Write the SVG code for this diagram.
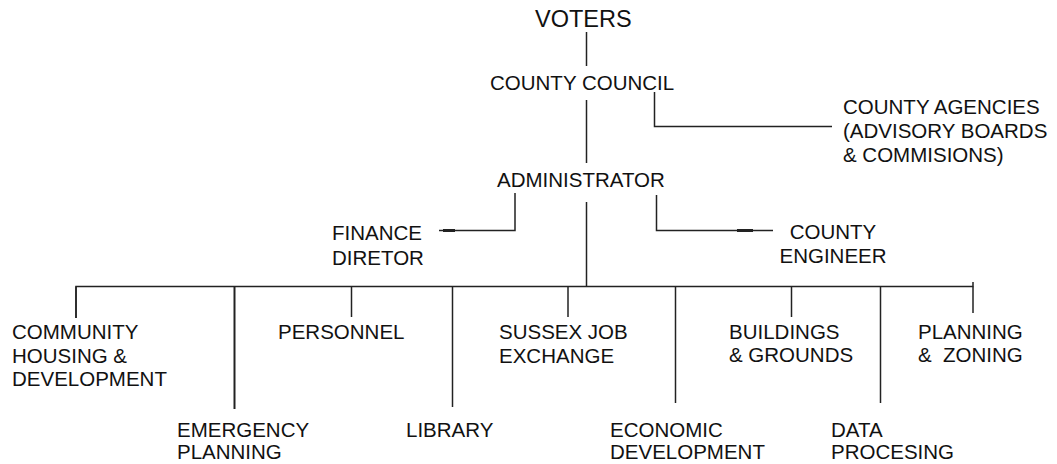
<svg xmlns="http://www.w3.org/2000/svg" width="1057" height="464" viewBox="0 0 1057 464">
  <style>
    .lbl { font-family: "Liberation Sans", Arial, sans-serif; font-size: 20.5px; fill: #111; }
    .big { font-size: 23.5px; }
    .wire { fill: none; stroke: #222; stroke-width: 1.5; }
    .stub { fill: none; stroke: #222; stroke-width: 3; }
  </style>
  <rect width="1057" height="464" fill="#ffffff"/>

  <!-- reporting lines -->
  <g id="connectors">
    <path class="wire" d="M586.5 32 V66"/>
    <path class="wire" d="M586.5 100 V163"/>
    <path class="wire" d="M654.5 92 V126.5 H832"/>
    <path class="wire" d="M515 193 V230.5 H439"/>
    <path class="stub" d="M443 230.5 H455"/>
    <path class="wire" d="M656.5 195 V230.5 H773"/>
    <path class="stub" d="M737 230.5 H753"/>
    <path class="wire" d="M586.5 202 V286.5"/>
    <path class="wire" d="M76 318 V286.5 H973 V282"/>
    <path class="wire" d="M76 286.5 V318"/>
    <path class="wire" d="M234.5 286.5 V409" style="stroke-width:2"/>
    <path class="wire" d="M351.5 286.5 V317"/>
    <path class="wire" d="M452.5 286.5 V407"/>
    <path class="wire" d="M568 286.5 V317"/>
    <path class="wire" d="M675.5 286.5 V403"/>
    <path class="wire" d="M791.5 286.5 V317"/>
    <path class="wire" d="M880.5 286.5 V403"/>
    <path class="wire" d="M973 286.5 V313"/>
  </g>

  <g id="voters"><text class="lbl big" x="535" y="27">VOTERS</text></g>
  <g id="county-council"><text class="lbl" x="490" y="90">COUNTY COUNCIL</text></g>
  <g id="county-agencies">
    <text class="lbl" x="843" y="114">COUNTY AGENCIES</text>
    <text class="lbl" x="843" y="138">(ADVISORY BOARDS</text>
    <text class="lbl" x="843" y="162">&amp; COMMISIONS)</text>
  </g>
  <g id="administrator"><text class="lbl" x="497" y="187">ADMINISTRATOR</text></g>
  <g id="finance-director">
    <text class="lbl" x="332" y="240">FINANCE</text>
    <text class="lbl" x="332" y="265">DIRETOR</text>
  </g>
  <g id="county-engineer">
    <text class="lbl" x="833" y="239" text-anchor="middle">COUNTY</text>
    <text class="lbl" x="833" y="263" text-anchor="middle">ENGINEER</text>
  </g>
  <g id="community-housing">
    <text class="lbl" x="12" y="339">COMMUNITY</text>
    <text class="lbl" x="12" y="362.5">HOUSING &amp;</text>
    <text class="lbl" x="12" y="386">DEVELOPMENT</text>
  </g>
  <g id="emergency-planning">
    <text class="lbl" x="177" y="436.5">EMERGENCY</text>
    <text class="lbl" x="177" y="459">PLANNING</text>
  </g>
  <g id="personnel"><text class="lbl" x="278" y="339">PERSONNEL</text></g>
  <g id="library"><text class="lbl" x="406" y="436.5">LIBRARY</text></g>
  <g id="sussex-job-exchange">
    <text class="lbl" x="499" y="339">SUSSEX JOB</text>
    <text class="lbl" x="499" y="362.5">EXCHANGE</text>
  </g>
  <g id="economic-development">
    <text class="lbl" x="610" y="436.5">ECONOMIC</text>
    <text class="lbl" x="610" y="459">DEVELOPMENT</text>
  </g>
  <g id="buildings-grounds">
    <text class="lbl" x="729" y="338.5">BUILDINGS</text>
    <text class="lbl" x="729" y="362">&amp; GROUNDS</text>
  </g>
  <g id="data-processing">
    <text class="lbl" x="831" y="436.5">DATA</text>
    <text class="lbl" x="831" y="459">PROCESING</text>
  </g>
  <g id="planning-zoning">
    <text class="lbl" x="918" y="338.5">PLANNING</text>
    <text class="lbl" x="918" y="362" xml:space="preserve">&amp;  ZONING</text>
  </g>
</svg>
